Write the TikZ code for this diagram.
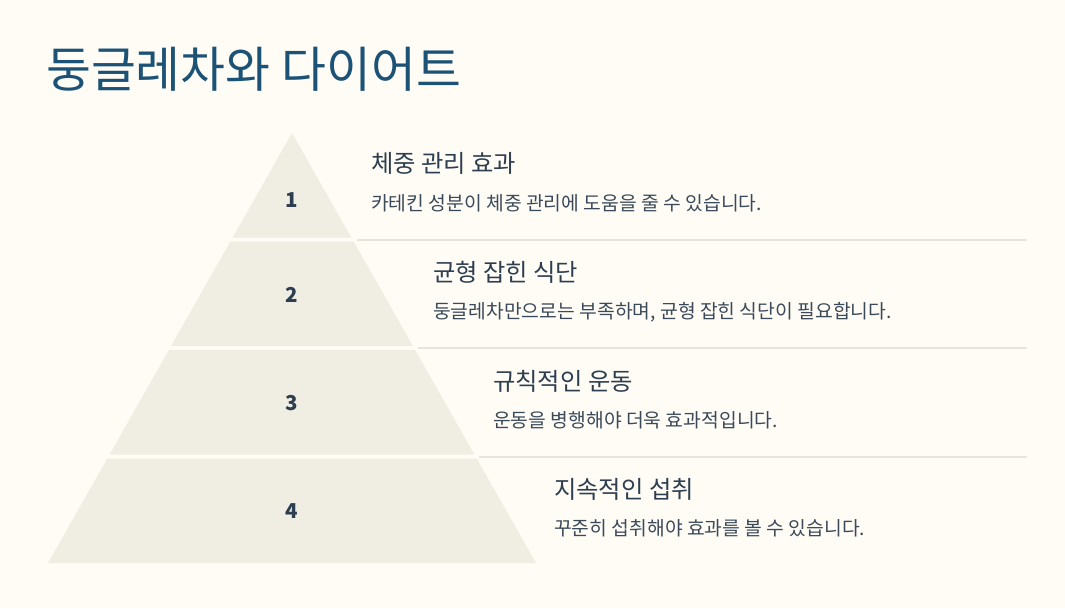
\documentclass[tikz,border=0pt]{standalone}
\usepackage{fontspec}
\setmainfont{Noto Sans CJK KR}
\newfontfamily\kr{Noto Sans CJK KR}
\definecolor{bgc}{HTML}{FFFCF5}
\definecolor{pyr}{HTML}{F0EDE3}
\definecolor{rulec}{HTML}{E8E5DC}
\definecolor{titlec}{HTML}{1B5276}
\definecolor{headc}{HTML}{2C3E50}
\definecolor{descc}{HTML}{3A4A5A}
\tikzset{
  level/.style={fill=pyr, draw=none},
  numtxt/.style={font=\kr\fontsize{20.5}{24}\selectfont\bfseries, text=headc, inner sep=0},
  headtxt/.style={font=\kr\fontsize{24.3}{28}\selectfont, text=headc, anchor=base west, inner sep=0},
  desctxt/.style={font=\kr\fontsize{19.3}{23}\selectfont, text=descc, anchor=base west, inner sep=0},
  rulel/.style={draw=rulec, line width=2pt},
}
\begin{document}
\begin{tikzpicture}[x=1pt,y=-1pt]
\fill[bgc] (0,0) rectangle (1065,608);
\useasboundingbox (0,0) rectangle (1065,608);
% title
\node[font=\kr\fontsize{48.8}{56}\selectfont, text=titlec, anchor=base west, inner sep=0] (title) at (46,87) {둥글레차와 다이어트};
% pyramid levels
\path[level] (292,133) -- (351.3,237.5) -- (232.7,237.5) -- cycle;
\path[level] (230.4,241.5) -- (353.6,241.5) -- (412.9,346) -- (171.1,346) -- cycle;
\path[level] (168.9,350) -- (415.1,350) -- (474.4,454.5) -- (109.6,454.5) -- cycle;
\path[level] (107.3,458.5) -- (476.7,458.5) -- (536,563) -- (48,563) -- cycle;
% numbers
\node[numtxt] (n1) at (292,200) {1};
\node[numtxt] (n2) at (292,295) {2};
\node[numtxt] (n3) at (292,403) {3};
\node[numtxt] (n4) at (292,511) {4};
% rules
\coordinate (r1a) at (357,240); \coordinate (r1b) at (1027,240);
\coordinate (r2a) at (418,348); \coordinate (r2b) at (1027,348);
\coordinate (r3a) at (479,457); \coordinate (r3b) at (1027,457);
\draw[rulel] (r1a) -- (r1b);
\draw[rulel] (r2a) -- (r2b);
\draw[rulel] (r3a) -- (r3b);
% texts
\node[headtxt] (h1) at (371,172) {체중 관리 효과};
\node[desctxt] (d1) at (371,210) {카테킨 성분이 체중 관리에 도움을 줄 수 있습니다.};
\node[headtxt] (h2) at (433,281) {균형 잡힌 식단};
\node[desctxt] (d2) at (433,318) {둥글레차만으로는 부족하며, 균형 잡힌 식단이 필요합니다.};
\node[headtxt] (h3) at (493,390) {규칙적인 운동};
\node[desctxt] (d3) at (493,427) {운동을 병행해야 더욱 효과적입니다.};
\node[headtxt] (h4) at (554,498) {지속적인 섭취};
\node[desctxt] (d4) at (554,535) {꾸준히 섭취해야 효과를 볼 수 있습니다.};
\end{tikzpicture}
\end{document}
